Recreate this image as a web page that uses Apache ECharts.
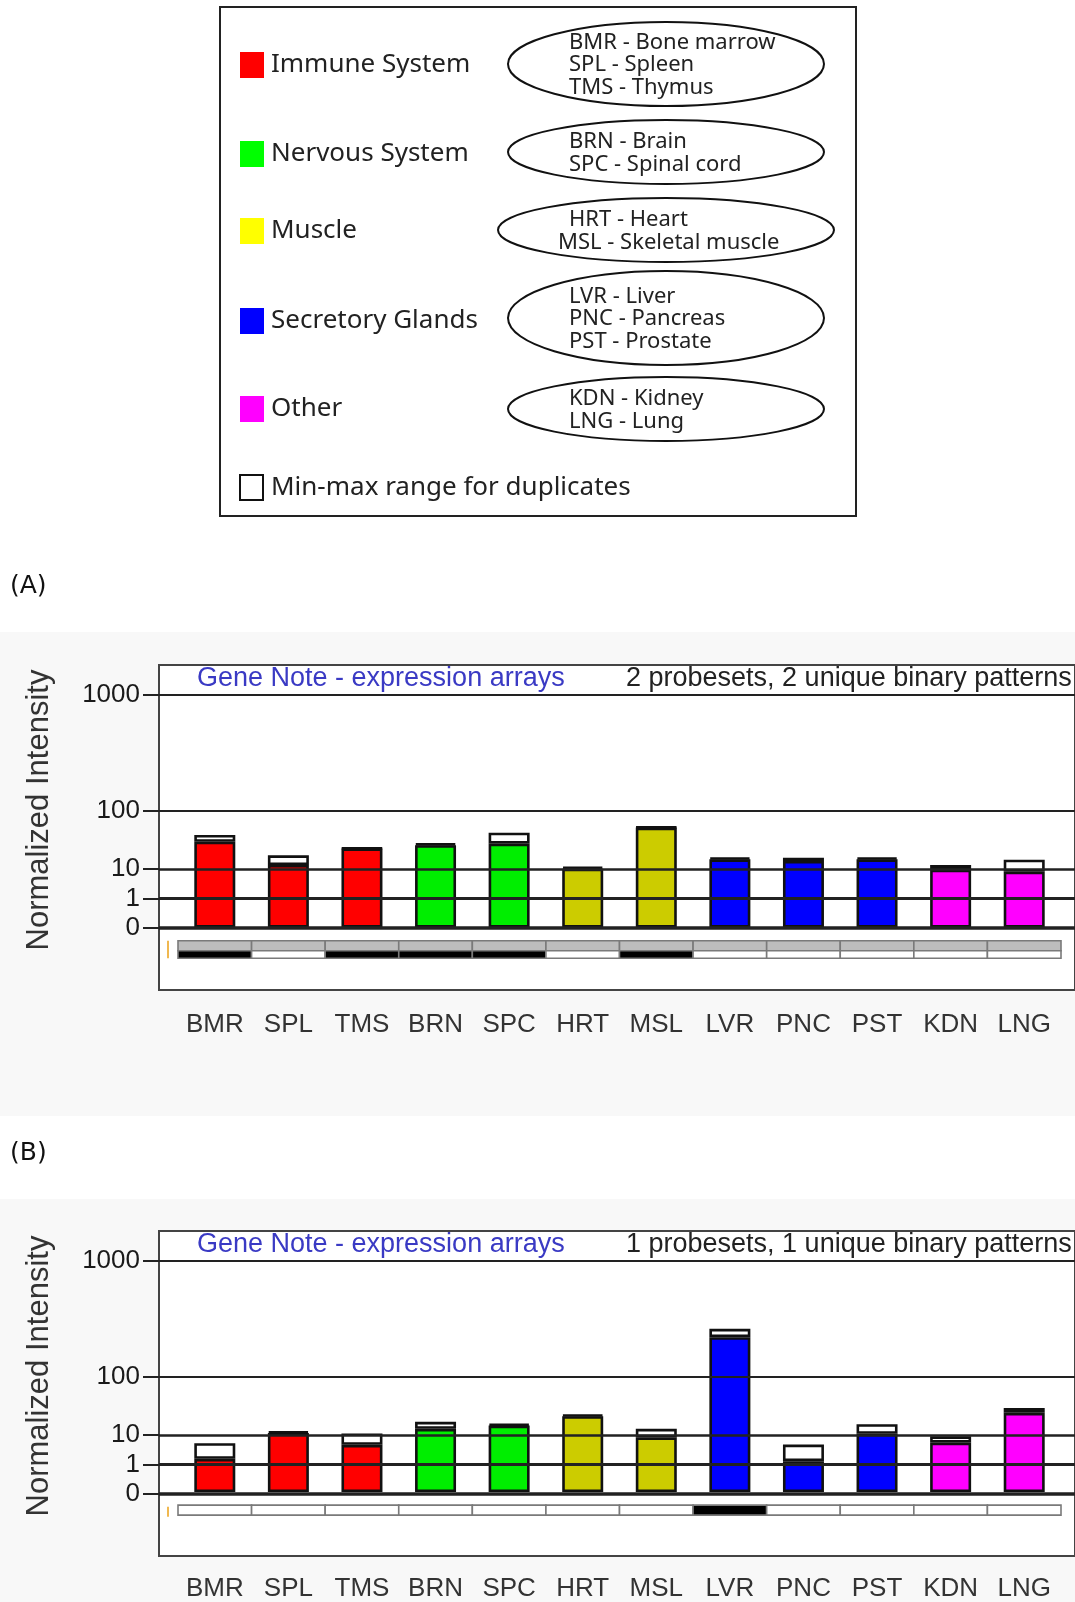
<!DOCTYPE html>
<html lang="en">
<head>
<meta charset="UTF-8">
<title>Gene Note - expression arrays</title>
<script src="https://cdn.jsdelivr.net/npm/echarts@6/dist/echarts.min.js"></script>
<style>
    html, body { margin: 0; padding: 0; background: #fff; }
    #page { position: relative; width: 1075px; height: 1602px; overflow: hidden; }
    .panel-bg { position: absolute; left: 0; width: 1075px; background: #f8f8f8; }
    #chart { position: absolute; left: 0; top: 0; width: 1075px; height: 1602px; }
</style>
</head>
<body>
<div id="page">
    <div class="panel-bg" style="top:632px;height:484px"></div>
    <div class="panel-bg" style="top:1199px;height:403px"></div>
    <div id="chart"></div>
</div>
<script>
    // tissues along the x axis
    const categories = ['BMR', 'SPL', 'TMS', 'BRN', 'SPC', 'HRT', 'MSL', 'LVR', 'PNC', 'PST', 'KDN', 'LNG'];
    const groupOfTissue = [0, 0, 0, 1, 1, 2, 2, 3, 3, 3, 4, 4];

    // legend text
    const groupNames = ['Immune System', 'Nervous System', 'Muscle', 'Secretory Glands', 'Other'];
    const groupTissues = [
        ['BMR - Bone marrow', 'SPL - Spleen', 'TMS - Thymus'],
        ['BRN - Brain', 'SPC - Spinal cord'],
        ['HRT - Heart', 'MSL - Skeletal muscle'],
        ['LVR - Liver', 'PNC - Pancreas', 'PST - Prostate'],
        ['KDN - Kidney', 'LNG - Lung']
    ];
    const rangeLabel = 'Min-max range for duplicates';
    const legendColors = ['#ff0000', '#00ff00', '#ffff00', '#0000ff', '#ff00ff'];
    const barColors = ['#ff0000', '#00ee00', '#cccc00', '#0000ff', '#ff00ff'];

    // y axis ticks (intensity)
    const tickValues = [0, 1, 10, 100, 1000];
    const tickLabels = ['0', '1', '10', '100', '1000'];

    const chartTitle = 'Gene Note - expression arrays';
    const yName = 'Normalized Intensity';

    // panel A : min / max of duplicates
    const minA = [36, 12.6, 27.5, 31.5, 33.4, 10.3, 60, 16.8, 15.5, 16.8, 9.7, 8.6];
    const maxA = [46.3, 20.3, 28, 33.4, 50.2, 11.3, 61, 18.2, 18.2, 18.2, 12.6, 16.5];
    // binary patterns: 2 = gray, 1 = black, 0 = white
    const patternA = [
        [2, 2, 2, 2, 2, 2, 2, 2, 2, 2, 2, 2],
        [1, 0, 1, 1, 1, 0, 1, 0, 0, 0, 0, 0]
    ];
    const infoA = '2 probesets, 2 unique binary patterns';

    // panel B
    const minB = [1.55, 10.5, 5, 13.2, 15.6, 24.3, 8.2, 262, 1.22, 10.1, 5.8, 28];
    const maxB = [5.6, 11.5, 10.3, 18.8, 16.8, 25.8, 13.2, 312, 5.1, 16.8, 8.7, 34];
    const patternB = [
        [0, 0, 0, 0, 0, 0, 0, 1, 0, 0, 0, 0]
    ];
    const infoB = '1 probesets, 1 unique binary patterns';

    // ---- layout ----
    const POW = 0.3;                 // intensity axis is v^0.3
    const tf = v => Math.pow(v, POW);
    const PX = 29.33;                // pixels per transformed unit
    const FRAME_H = 325;
    const ZERO_FROM_TOP = 262.7;
    const yMax = ZERO_FROM_TOP / PX;
    const yMin = -(FRAME_H - ZERO_FROM_TOP) / PX;
    const tickT = tickValues.map(tf);
    const gridWidths = [3.5, 3, 2.5, 2, 2];
    const stripFill = ['#ffffff', '#000000', '#bdbdbd'];
    const FONT = 'Liberation Sans, Arial, sans-serif';
    const LFONT = 'Noto Sans, DejaVu Sans, sans-serif';

    const grid = [], xAxis = [], yAxis = [], series = [], graphic = [];

    function addPanel(p, top, mins, maxs, pattern, rowHeights, info, letter, letterY) {
        const fg = 2 * p, bg = 2 * p + 1;
        grid.push({ left: 159, top: top, width: 960, height: FRAME_H, show: true,
            backgroundColor: '#fff', borderColor: '#444', borderWidth: 2 });
        grid.push({ left: 178, top: top, width: 883, height: FRAME_H });

        xAxis.push({ gridIndex: fg, type: 'value', min: 0, max: 1, show: false });
        xAxis.push({
            gridIndex: bg, type: 'category', data: categories,
            axisLine: { show: false }, axisTick: { show: false },
            axisLabel: { interval: 0, margin: 22, fontSize: 26, color: '#333', fontFamily: FONT }
        });
        yAxis.push({
            gridIndex: fg, type: 'value', min: yMin, max: yMax,
            axisLine: { show: true, lineStyle: { color: '#444', width: 2 } },
            axisTick: { show: true, customValues: tickT, length: 16, lineStyle: { color: '#222', width: 2 } },
            axisLabel: {
                show: true, customValues: tickT, margin: 19, fontSize: 26, color: '#1a1a1a', fontFamily: FONT,
                formatter: v => {
                    const k = tickT.findIndex(t => Math.abs(t - v) < 1e-6);
                    return k >= 0 ? tickLabels[k] : '';
                }
            },
            splitLine: { show: false }
        });
        yAxis.push({ gridIndex: bg, type: 'value', min: yMin, max: yMax, show: false });

        // colored part: 0 -> min
        series.push({
            type: 'bar', xAxisIndex: bg, yAxisIndex: bg, stack: 's' + p, barWidth: 41, silent: true,
            itemStyle: { borderColor: '#111', borderWidth: 2.6 },
            data: mins.map((v, k) => ({ value: tf(v), itemStyle: { color: barColors[groupOfTissue[k]] } }))
        });
        // white part: min -> max
        series.push({
            type: 'bar', xAxisIndex: bg, yAxisIndex: bg, stack: 's' + p, barWidth: 41, silent: true,
            itemStyle: { color: '#fff', borderColor: '#111', borderWidth: 2.6 },
            data: maxs.map((v, k) => tf(v) - tf(mins[k]))
        });
        // binary pattern strip
        const stripData = [];
        pattern.forEach((row, r) => row.forEach((s, c) => stripData.push([c, r, s])));
        series.push({
            type: 'custom', xAxisIndex: bg, yAxisIndex: bg, silent: true,
            data: stripData,
            renderItem: (params, api) => {
                const c = api.value(0), r = api.value(1), s = api.value(2);
                const zero = api.coord([c, 0]);
                const bw = api.size([1, 0])[0];
                let y = zero[1] + 13;
                for (let i = 0; i < r; i++) y += rowHeights[i];
                return {
                    type: 'rect',
                    shape: { x: zero[0] - bw / 2, y: y, width: bw, height: rowHeights[r] },
                    style: { fill: stripFill[s], stroke: '#7a7a7a', lineWidth: 1.6 }
                };
            }
        });
        // horizontal reference lines, drawn over the bars
        series.push({
            type: 'line', xAxisIndex: fg, yAxisIndex: fg, data: [], z: 5, silent: true,
            markLine: {
                silent: true, symbol: ['none', 'none'], label: { show: false },
                lineStyle: { color: '#222', type: 'solid' },
                data: tickT.map((t, k) => ({ yAxis: t, lineStyle: { width: gridWidths[k] } }))
            }
        });

        const totalStrip = rowHeights.reduce((a, b) => a + b, 0);
        graphic.push(
            { type: 'rect', shape: { x: 167, y: top + ZERO_FROM_TOP + 13, width: 2, height: totalStrip },
              style: { fill: '#f0b850' }, z: 10 },
            { type: 'text', x: 197, y: top + 14, z: 10,
              style: { text: chartTitle, font: '27px ' + FONT, fill: '#3a3ac4', verticalAlign: 'middle' } },
            { type: 'text', x: 626, y: top + 14, z: 10,
              style: { text: info, font: '27px ' + FONT, fill: '#222', verticalAlign: 'middle' } },
            { type: 'text', x: 39, y: top + 145, rotation: Math.PI / 2, z: 10,
              style: { text: yName, font: '31px ' + FONT, fill: '#333', align: 'center', verticalAlign: 'middle' } },
            { type: 'text', x: 10, y: letterY, z: 10,
              style: { text: letter, font: '25px DejaVu Sans, sans-serif', fill: '#111', verticalAlign: 'middle' } }
        );
    }

    addPanel(0, 665, minA, maxA, patternA, [10, 7.5], infoA, '(A)', 586);
    addPanel(1, 1231, minB, maxB, patternB, [10], infoB, '(B)', 1153);

    // ---- legend box ----
    const rowY = [65, 154, 231, 321, 409];
    const ellY = [64, 152, 230, 318, 409];
    const ellRx = [158, 158, 168, 158, 158];
    const ellRy = [42, 32, 32, 47, 32];
    graphic.push({ type: 'rect', shape: { x: 220, y: 7, width: 636, height: 509 },
        style: { fill: '#fff', stroke: '#222', lineWidth: 2 } });
    groupNames.forEach((name, i) => {
        graphic.push(
            { type: 'rect', shape: { x: 240, y: rowY[i] - 13, width: 24, height: 26 }, style: { fill: legendColors[i] } },
            { type: 'text', x: 271, y: rowY[i],
              style: { text: name, font: '26px ' + LFONT, fill: '#222', verticalAlign: 'middle' } },
            { type: 'ellipse', shape: { cx: 666, cy: ellY[i], rx: ellRx[i], ry: ellRy[i] },
              style: { fill: 'none', stroke: '#111', lineWidth: 2 } }
        );
        const n = groupTissues[i].length;
        groupTissues[i].forEach((t, j) => {
            graphic.push({ type: 'text', x: i === 2 && j === 1 ? 558 : 569,
                y: ellY[i] + 1 + (j - (n - 1) / 2) * 22.5,
                style: { text: t, font: '22px ' + LFONT, fill: '#222', verticalAlign: 'middle' } });
        });
    });
    graphic.push(
        { type: 'rect', shape: { x: 240, y: 475, width: 23, height: 25 }, style: { fill: '#fff', stroke: '#111', lineWidth: 2 } },
        { type: 'text', x: 271, y: 488,
          style: { text: rangeLabel, font: '26px ' + LFONT, fill: '#222', verticalAlign: 'middle' } }
    );

    const myChart = echarts.init(document.getElementById('chart'));
    myChart.setOption({
        backgroundColor: 'transparent',
        animation: false,
        grid: grid,
        xAxis: xAxis,
        yAxis: yAxis,
        series: series,
        graphic: graphic
    });
</script>
</body>
</html>
